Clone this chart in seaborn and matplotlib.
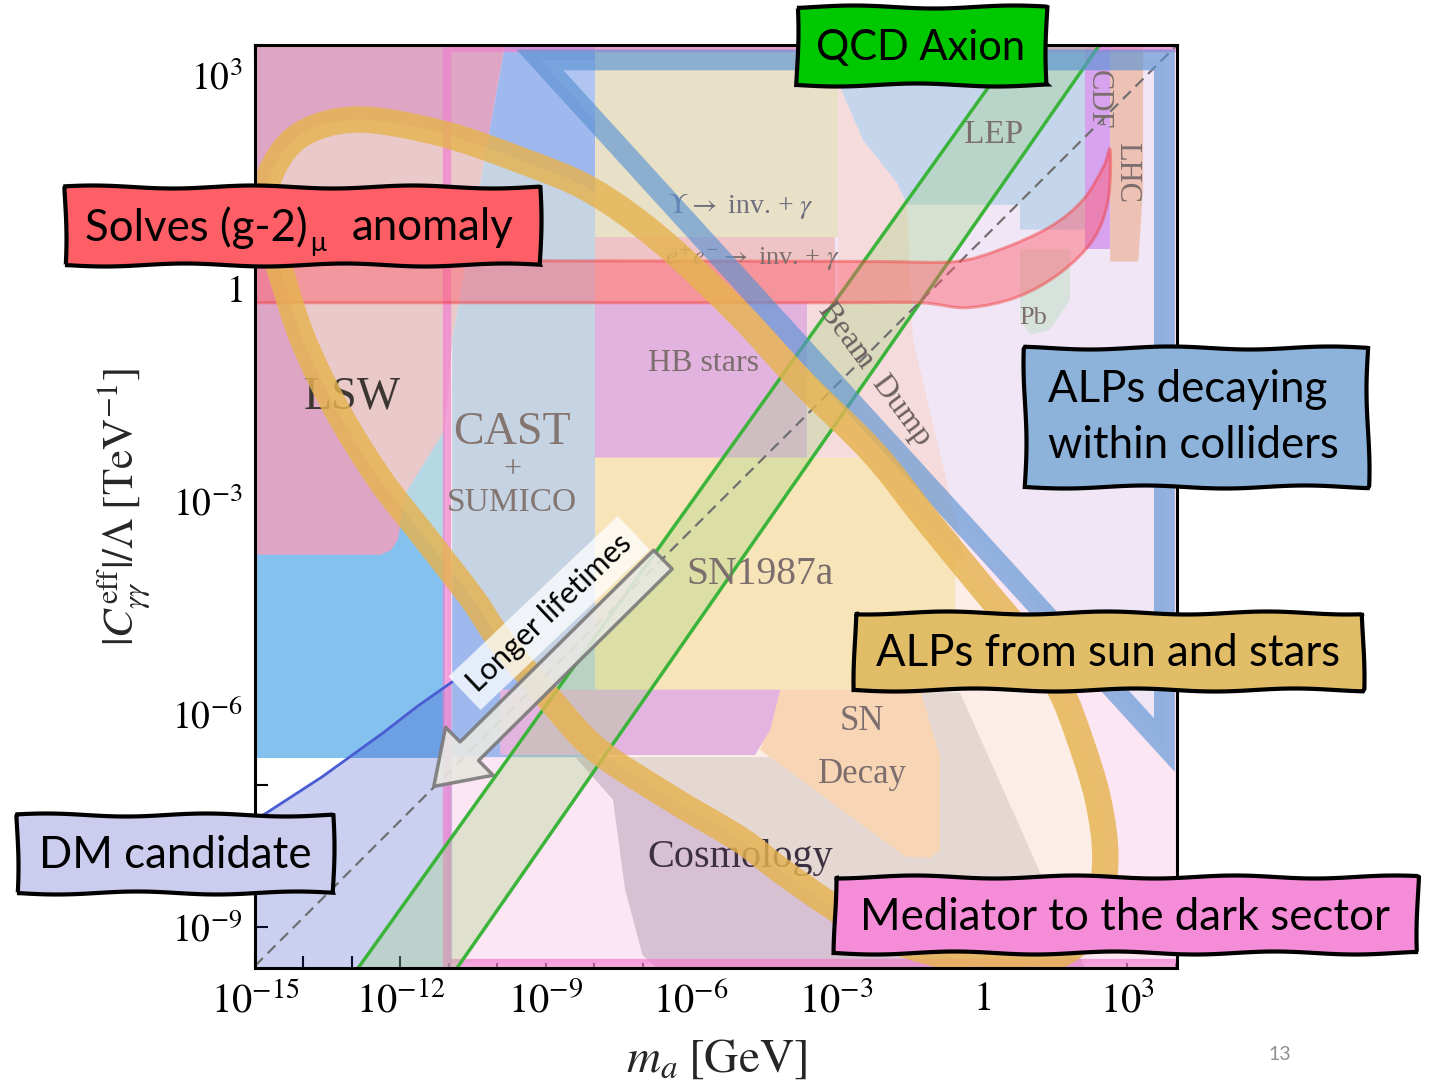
import numpy as np
import matplotlib
matplotlib.use("Agg")
import matplotlib.pyplot as plt
from matplotlib.patches import Polygon, Rectangle, FancyArrowPatch, PathPatch
from matplotlib.path import Path
from matplotlib.ticker import NullLocator
import seaborn as sns

# all values are log10(m_a / GeV) and log10(|C| / Lambda / TeV^-1)
x_lim = [-15, 4.03]
y_lim = [-9.58, 3.42]

# background constraint regions
med_m = [-11.04, 4.3, 4.3, -11.04]
med_c = [-9.51, -9.51, 3.38, 3.38]
helio_m = [-15, -11.08, -11.08, -15]
helio_c = [-1.0, -1.0, -6.62, -6.62]
lsw_m = [-15, -9.84, -10.93, -11.08, -11.9, -12.05, -12.2, -12.42, -15]
lsw_c = [3.42, 3.42, -0.73, -2.0, -2.9, -3.55, -3.70, -3.76, -3.76]
cast_m = [-10.93, -9.84, -7.98, -7.98, -10.93]
cast_c = [-0.73, 3.42, 3.42, -6.61, -6.61]
dm_m = [-15, -14.75, -13.62, -12.36, -11.66, -10.93]
dm_c = [-7.49, -7.39, -6.89, -6.27, -5.90, -5.55]
cosmo_m = [-8.39, -4.16, -4.16, -0.45, 1.21, 2.13, -6.7, -7.0, -7.36, -7.61]
cosmo_c = [-6.61, -6.61, -5.66, -5.70, -8.24, -9.58, -9.58, -9.40, -8.48, -7.21]

# regions inside the star loop
ups_m = [-7.98, -2.96, -2.96, -7.98]
ups_c = [3.42, 3.42, 0.72, 0.72]
ee_m = [-7.98, -3.03, -3.03, -7.98]
ee_c = [0.72, 0.72, -0.21, -0.21]
hb_m = [-7.98, -3.60, -3.60, -7.98]
hb_c = [-0.21, -0.21, -2.39, -2.39]
bd_m = [-2.96, -2.45, -1.75, -1.54, -1.42, -0.34, -0.86, -2.51, -3.60, -3.60, -2.96]
bd_c = [2.89, 2.08, 1.48, 1.14, -0.73, -3.83, -3.83, -2.39, -2.39, -0.21, -0.21]
sn87_m = [-7.98, -2.51, -0.55, -0.55, -7.98]
sn87_c = [-2.39, -2.39, -3.83, -5.66, -5.66]
snd_m = [-4.16, -1.27, -0.86, -0.86, -1.07, -1.58, -4.57, -4.37]
snd_c = [-5.66, -5.66, -6.61, -7.92, -8.03, -8.01, -6.51, -6.0]
tel_m = [-9.94, -4.16, -4.37, -4.68, -9.94]
tel_c = [-5.66, -5.66, -6.23, -6.58, -6.58]
lep_m = [-2.96, 2.13, 2.13, 0.79, 0.79, -1.54, -1.75, -2.45, -2.96]
lep_c = [3.42, 3.42, 0.82, 0.82, 1.17, 1.17, 1.48, 2.08, 2.89]
cdf_m = [2.13, 2.65, 2.65, 2.13]
cdf_c = [3.42, 3.42, 0.54, 0.54]
lhc_m = [2.65, 3.33, 3.33, 3.23, 2.65]
lhc_c = [3.42, 3.42, 1.38, 0.37, 0.37]
pb_m = [0.79, 1.82, 1.82, 1.41, 1.00, 0.79]
pb_c = [0.54, 0.54, -0.17, -0.59, -0.66, -0.45]

# highlighted bands
loop_m = [-14.69, -14.07, -12.89, -11.18, -9.53, -8.08, -6.64, -4.99, -3.75, -2.24,
          -1.13, 0.11, 1.00, 1.62, 2.03, 2.40, 2.55, 2.34, 1.62, 0.38, -0.86, -2.10,
          -3.13, -4.16, -4.99, -6.37, -7.94, -8.91, -9.94, -10.50, -11.45, -12.42,
          -13.31, -14.01, -14.48, -14.77]
loop_c = [1.59, 2.15, 2.37, 2.18, 1.80, 1.38, 0.68, -0.38, -1.30, -2.32,
          -3.27, -4.30, -5.03, -5.66, -6.37, -7.21, -8.06, -8.90, -9.39, -9.51, -9.39, -9.11,
          -8.69, -8.20, -7.77, -7.21, -6.51, -5.80, -4.96, -4.39, -3.55, -2.70,
          -1.72, -0.73, 0.25, 0.96]
tri_m = [-9.12, 3.77, 3.77]
tri_c = [3.21, 3.21, -6.44]
g2_m = [-17, -15.5, -12, -8, -4, -2, -0.55, 0.38, 1.41, 2.09, 2.51, 2.65,
        2.61, 2.30, 1.62, 0.73, -0.30, -1.27, -3, -6, -10, -13.5, -15.5, -17]
g2_c = [0.39, 0.39, 0.385, 0.38, 0.375, 0.37, 0.37, 0.54, 0.86, 1.24, 1.70, 1.94,
        1.24, 0.68, 0.21, -0.13, -0.28, -0.21, -0.21, -0.21, -0.21, -0.21, -0.21, -0.21]
qcd_left_m = [-12.87, 0.76]
qcd_left_c = [-9.58, 3.42]
qcd_right_m = [-10.83, 2.43]
qcd_right_c = [-9.58, 3.42]
diag_m = [-15, 4.03]
diag_c = [-9.55, 3.42]
arrow_tail = [-6.54, -3.80]
arrow_head = [-11.35, -7.05]

xtick_pows = list(range(-15, 5))
ytick_pows = list(range(-9, 4))


def P(m, c):
    return np.column_stack([10.0 ** np.array(m), 10.0 ** np.array(c)])


def region(ax, m, c, color, z, alpha=1.0):
    ax.add_patch(Polygon(P(m, c), closed=True, fc=color, ec="none", alpha=alpha, zorder=z))


def smooth_closed(m, c):
    # closed Catmull-Rom outline through the points, as cubic Bezier segments in log space
    pts = np.column_stack([m, c])
    n = len(pts)
    verts = [pts[0]]
    codes = [Path.MOVETO]
    for i in range(n):
        p0, p1, p2, p3 = pts[(i - 1) % n], pts[i], pts[(i + 1) % n], pts[(i + 2) % n]
        verts += [p1 + (p2 - p0) / 6, p2 - (p3 - p1) / 6, p2]
        codes += [Path.CURVE4] * 3
    verts.append(pts[0])
    codes.append(Path.CLOSEPOLY)
    return Path(10.0 ** np.array(verts), codes)


sns.set_theme(style="ticks")
plt.rcParams["mathtext.fontset"] = "stix"
plt.rcParams["font.family"] = ["Lato", "DejaVu Sans"]

W, H = 1433, 1088
fig = plt.figure(figsize=(W / 100, H / 100), dpi=100)
ax = fig.add_axes([255 / W, 120 / H, 922 / W, 923 / H])
ax.set_xscale("log")
ax.set_yscale("log")
ax.set_xlim(10.0 ** x_lim[0], 10.0 ** x_lim[1])
ax.set_ylim(10.0 ** y_lim[0], 10.0 ** y_lim[1])
ax.set_facecolor("white")

# base regions
region(ax, med_m, med_c, "#fce6f3", 1.0)
region(ax, helio_m, helio_c, "#85c1ef", 1.1)
region(ax, lsw_m, lsw_c, "#dea6c4", 1.2)
region(ax, cast_m, cast_c, "#9fb8ee", 1.3)
region(ax, cosmo_m, cosmo_c, "#d6c0d2", 1.4)
region(ax, dm_m + [-10.93, -15], dm_c + [-9.58, -9.58], "#2030c0", 1.5, alpha=0.23)

# overlays of the triangle and loop interiors
loop_path = smooth_closed(loop_m, loop_c)
region(ax, tri_m, tri_c, "#d9e6fa", 2.5, alpha=0.3)
ax.add_patch(PathPatch(loop_path, fc="#fcfad6", ec="none", alpha=0.42, zorder=3.0))

# regions inside the loop
region(ax, ups_m, ups_c, "#e8e1c8", 4.0)
region(ax, ee_m, ee_c, "#efc4c6", 4.0)
region(ax, hb_m, hb_c, "#e3b3e0", 4.0)
region(ax, bd_m, bd_c, "#f5dbdb", 4.0)
region(ax, sn87_m, sn87_c, "#f7e4b8", 4.1)
region(ax, snd_m, snd_c, "#f7d5b5", 4.1)
region(ax, tel_m, tel_c, "#e3b4e0", 4.2)
region(ax, lep_m, lep_c, "#c5d5ec", 4.0)
region(ax, cdf_m, cdf_c, "#d7a3ef", 4.0)
region(ax, lhc_m, lhc_c, "#eec1b5", 4.0)
region(ax, pb_m, pb_c, "#d8e2dc", 4.0)

# mediator frame
ax.add_patch(Polygon(P(med_m, med_c), closed=True, fill=False, ec="#f080d0",
                     lw=6, alpha=0.7, zorder=4.5))

# region labels
lab = dict(family="Liberation Serif", color="#7d6e6e", ha="center", va="center", zorder=5.8)


def rlabel(m, c, s, size, **kw):
    d = dict(lab)
    d.update(kw)
    ax.text(10.0 ** m, 10.0 ** c, s, fontsize=size, **d)


rlabel(-13.0, -1.54, "LSW", 33, color="#3c3632")
rlabel(-9.69, -2.04, "CAST", 33, color="#857570")
rlabel(-9.69, -2.56, "+", 23, color="#857570")
rlabel(-9.69, -3.03, "SUMICO", 24, color="#857570")
rlabel(-5.75, -1.06, "HB stars", 23)
rlabel(-4.57, -4.04, "SN1987a", 28.5)
rlabel(-2.47, -6.11, "SN", 25)
rlabel(-2.47, -6.86, "Decay", 25)
rlabel(-4.99, -8.03, "Cosmology", 29, color="#3d3040")
rlabel(0.24, 2.15, "LEP", 24)
rlabel(2.40, 2.65, "CDF", 22, rotation=-90)
rlabel(3.0, 1.63, "LHC", 22, rotation=-90)
rlabel(1.06, -0.42, "Pb", 19)
rlabel(-2.22, -1.22, "Beam  Dump", 23, rotation=-53.5, rotation_mode="anchor", color="#6d6060")
rlabel(-4.99, 1.14, r"$\Upsilon \rightarrow$ inv. + $\gamma$", 20, color="#6d6d7d")
rlabel(-4.74, 0.42, r"$e^{+}e^{-} \rightarrow$ inv. + $\gamma$", 19, color="#7d6e6e")

# QCD axion band
ax.add_patch(Polygon(P(qcd_left_m + qcd_right_m[::-1], qcd_left_c + qcd_right_c[::-1]),
                     closed=True, fc="#9ed67a", ec="none", alpha=0.3, zorder=5.0))
sns.lineplot(x=10.0 ** np.array(qcd_left_m), y=10.0 ** np.array(qcd_left_c), ax=ax,
             color="#3cb43c", lw=2.5, zorder=5.1, estimator=None, sort=False)
sns.lineplot(x=10.0 ** np.array(qcd_right_m), y=10.0 ** np.array(qcd_right_c), ax=ax,
             color="#3cb43c", lw=2.5, zorder=5.1, estimator=None, sort=False)
sns.lineplot(x=10.0 ** np.array(diag_m), y=10.0 ** np.array(diag_c), ax=ax,
             color="#707070", lw=1.6, linestyle=(0, (5, 3)), zorder=5.1,
             estimator=None, sort=False)
sns.lineplot(x=10.0 ** np.array(dm_m), y=10.0 ** np.array(dm_c), ax=ax,
             color="#4a5cd4", lw=2, zorder=5.1, estimator=None, sort=False)

# (g-2) band
ax.add_patch(PathPatch(smooth_closed(g2_m, g2_c), fc="#ff5a6a", ec="#f03c3c", lw=2.2,
                       alpha=0.45, zorder=5.5))

# blue triangle and yellow loop
ax.add_patch(Polygon(P(tri_m, tri_c), closed=True, fill=False, ec="#5b93d3", lw=15,
                     alpha=0.65, joinstyle="miter", zorder=6.0))
ax.add_patch(PathPatch(loop_path, fill=False, ec="#e6b34f", lw=19, alpha=0.82,
                       joinstyle="round", zorder=6.1))

# longer lifetimes arrow
ax.add_patch(FancyArrowPatch(tuple(10.0 ** np.array(arrow_tail)), tuple(10.0 ** np.array(arrow_head)),
                             arrowstyle="simple,head_length=2.0,head_width=2.7,tail_width=1.05",
                             mutation_scale=18, fc="#e8e8e2", ec="#7a7a7a", lw=2.5,
                             alpha=0.9, zorder=7))
ax.text(10.0 ** -8.93, 10.0 ** -4.58, "Longer lifetimes", fontsize=22, rotation=43.5,
        rotation_mode="anchor", ha="center", va="center", color="black", zorder=7.5,
        bbox=dict(boxstyle="square,pad=0.3", fc="white", ec="none", alpha=0.75))

# axes styling
ax.xaxis.set_minor_locator(NullLocator())
ax.yaxis.set_minor_locator(NullLocator())
ax.set_xticks([10.0 ** k for k in xtick_pows])
ax.set_xticklabels([("$1$" if k == 0 else "$10^{%d}$" % k) if k % 3 == 0 else "" for k in xtick_pows])
ax.set_yticks([10.0 ** k for k in ytick_pows])
ax.set_yticklabels([("$1$" if k == 0 else "$10^{%d}$" % k) if k % 3 == 0 else "" for k in ytick_pows])
ax.tick_params(which="major", direction="in", length=9, width=1.5, top=True, right=True,
               pad=9, colors="black")
ax.tick_params(axis="x", labelsize=29)
ax.tick_params(axis="y", labelsize=27)
for s in ax.spines.values():
    s.set_linewidth(2.2)
    s.set_color("black")
    s.set_zorder(9)
ax.set_xlabel(r"$m_a\;[\mathrm{GeV}]$", fontsize=34, labelpad=13)
ax.set_ylabel(r"$|C^{\mathrm{eff}}_{\gamma\gamma}|/\Lambda\;[\mathrm{TeV}^{-1}]$", fontsize=31, labelpad=14)


# callout boxes
def callout(x0, y0, x1, y1, color):
    r = Rectangle((x0 / W, 1 - y1 / H), (x1 - x0) / W, (y1 - y0) / H, transform=fig.transFigure,
                  fc=color, ec="black", lw=3, zorder=10)
    r.set_sketch_params(1.5, 160, 1)
    fig.add_artist(r)


def ftext(x, y, s, size=31.5, ha="center"):
    fig.text(x / W, 1 - y / H, s, fontsize=size, ha=ha, va="center", color="black", zorder=11)


callout(797, 7, 1047, 85, "#00c800")
ftext(921, 48, "QCD Axion", size=30)
callout(65, 187, 540, 265, "#fe5f66")
ftext(85, 228, "Solves (g-2)", ha="left")
ftext(318, 243, "\u03bc", size=19)
ftext(513, 228, "anomaly", ha="right")
callout(1025, 348, 1368, 487, "#8db3da")
ftext(1048, 390, "ALPs decaying", ha="left")
ftext(1048, 446, "within colliders", ha="left")
callout(855, 613, 1363, 690, "#e1bd67")
ftext(1108, 654, "ALPs from sun and stars")
callout(17, 815, 333, 893, "#cccdee")
ftext(175, 856, "DM candidate")
callout(835, 877, 1418, 953, "#f58cd8")
ftext(1125, 917, "Mediator to the dark sector")
fig.text(1280 / W, 1 - 1055 / H, "13", fontsize=14, color="#909090", ha="center", va="center")

fig.savefig("out.png", dpi=100)
